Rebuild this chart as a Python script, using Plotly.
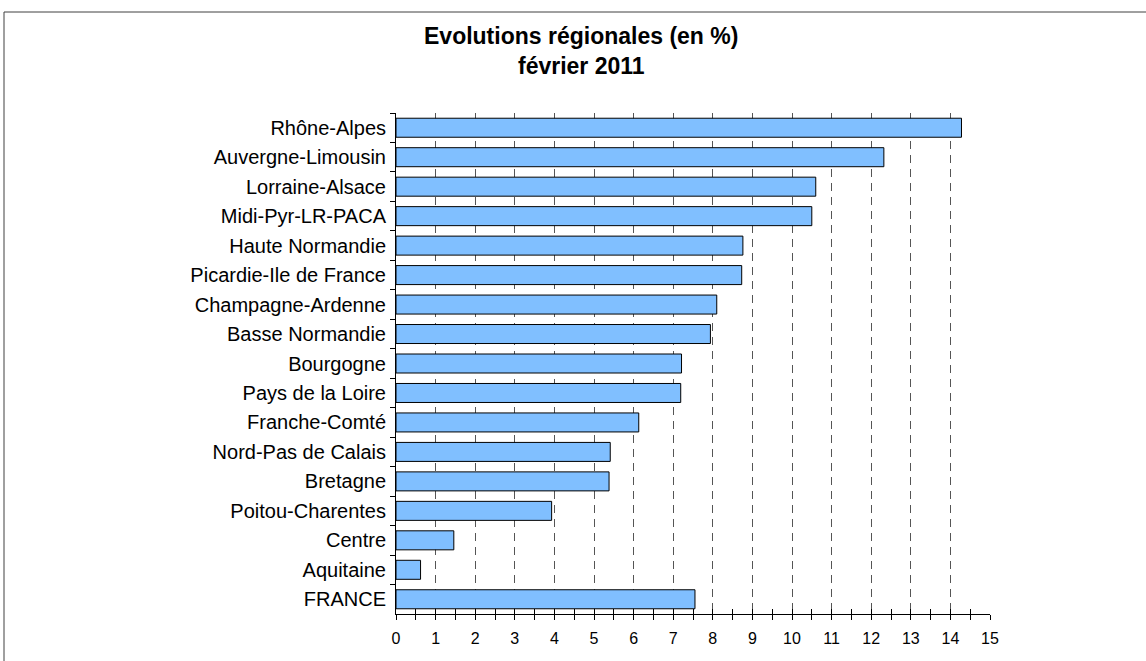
import plotly.graph_objects as go

regions = ["Rhône-Alpes", "Auvergne-Limousin", "Lorraine-Alsace", "Midi-Pyr-LR-PACA",
           "Haute Normandie", "Picardie-Ile de France", "Champagne-Ardenne",
           "Basse Normandie", "Bourgogne", "Pays de la Loire", "Franche-Comté",
           "Nord-Pas de Calais", "Bretagne", "Poitou-Charentes", "Centre",
           "Aquitaine", "FRANCE"]
values = [14.28, 12.32, 10.6, 10.5, 8.76, 8.73, 8.1, 7.94, 7.21, 7.19, 6.13,
          5.41, 5.38, 3.93, 1.46, 0.62, 7.55]
x_ticks = list(range(0, 16))
grid_ticks = list(range(1, 15))
title_line1 = "Evolutions régionales (en %)"
title_line2 = "février 2011"

W, H = 1146, 661
L, R, T, B = 396, 156, 113, 47

fig = go.Figure()
fig.add_trace(go.Bar(
    y=regions, x=values, orientation="h",
    marker=dict(color="#80BFFF", line=dict(color="#000000", width=1)),
    hoverinfo="x+y", showlegend=False,
))
# invisible helper traces so overlay axes render
for ax in ["x2", "x3"]:
    fig.add_trace(go.Scatter(
        y=regions, x=values, xaxis=ax, mode="markers",
        marker=dict(opacity=0, size=1), hoverinfo="skip", showlegend=False,
    ))

font = "Arial, Liberation Sans, sans-serif"
PW, PH = W - L - R, H - T - B
n = len(regions)
fig.update_layout(
    width=W, height=H,
    margin=dict(l=L, r=R, t=T, b=B),
    paper_bgcolor="white", plot_bgcolor="white",
    bargap=0.355,
    font=dict(family=font, color="black"),
    xaxis=dict(
        range=[0, 15], tickvals=x_ticks, ticktext=[str(v) for v in x_ticks],
        ticks="outside", ticklen=5, tickwidth=1, tickcolor="black",
        minor=dict(dtick=0.5, ticks="outside", ticklen=5, tickcolor="black", showgrid=False),
        showgrid=False, zeroline=False, showline=True, linecolor="black", linewidth=1,
        tickfont=dict(size=16, family=font), ticklabelstandoff=5,
    ),
    xaxis2=dict(
        overlaying="x", anchor="y", side="bottom", range=[0, 15], tickvals=x_ticks,
        ticks="inside", ticklen=5, tickcolor="black", showticklabels=False,
        minor=dict(dtick=0.5, ticks="inside", ticklen=5, tickcolor="black", showgrid=False),
        showgrid=False, zeroline=False, showline=False,
    ),
    xaxis3=dict(
        overlaying="x", anchor="y", side="bottom", range=[0, 15], tickvals=grid_ticks,
        ticks="", showticklabels=False, showgrid=True, gridcolor="#555555",
        griddash="8px,6px", gridwidth=1, zeroline=False, showline=False,
    ),
    yaxis=dict(
        type="category", categoryorder="array", categoryarray=regions,
        range=[n - 0.5, -0.5], tickson="boundaries", ticks="outside", ticklen=5,
        tickcolor="black", showline=True, linecolor="black", linewidth=1,
        showgrid=False, zeroline=False, tickfont=dict(size=20, family=font),
        ticklabelstandoff=5,
    ),
    annotations=[
        dict(text="<b>" + title_line1 + "</b>", xref="paper", yref="paper",
             x=(581 - L) / PW, y=1 + (T - 36) / PH,
             xanchor="center", yanchor="middle", showarrow=False,
             font=dict(size=23, family=font)),
        dict(text="<b>" + title_line2 + "</b>", xref="paper", yref="paper",
             x=(581 - L) / PW, y=1 + (T - 66) / PH,
             xanchor="center", yanchor="middle", showarrow=False,
             font=dict(size=23, family=font)),
    ],
    shapes=[
        dict(type="line", xref="paper", yref="paper",
             x0=(4 - L) / PW, x1=(W + 10 - L) / PW,
             y0=1 + (T - 12) / PH, y1=1 + (T - 12) / PH,
             line=dict(color="#404040", width=1)),
        dict(type="line", xref="paper", yref="paper",
             x0=(4 - L) / PW, x1=(4 - L) / PW,
             y0=1 + (T - 12) / PH, y1=-(B + 10) / PH,
             line=dict(color="#404040", width=1)),
    ],
)

fig.write_html(
    "out.html",
    config={"displayModeBar": False},
    post_script="document.body.style.margin='0';document.body.style.padding='0';",
)
